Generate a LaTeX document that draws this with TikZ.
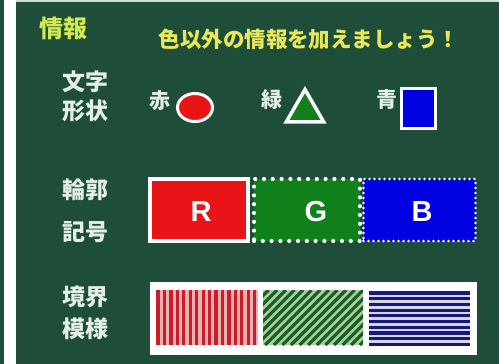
\documentclass[tikz,border=0pt]{standalone}
\usepackage{fontspec}
\usepackage{xcolor}
\usetikzlibrary{shapes.geometric}
\newfontfamily\jpfont{Noto Sans CJK JP}
\setsansfont{Liberation Sans}
\definecolor{boardgreen}{RGB}{30, 78, 58}
\definecolor{chalkwhite}{RGB}{228, 240, 228}
\definecolor{chalkyellow}{RGB}{232, 232, 90}
\definecolor{markred}{RGB}{232, 20, 24}
\definecolor{markgreen}{RGB}{16, 128, 26}
\definecolor{markblue}{RGB}{0, 0, 225}
\definecolor{stripered}{RGB}{200, 30, 40}
\definecolor{stripegreen}{RGB}{22, 100, 26}
\definecolor{stripeblue}{RGB}{24, 24, 120}

\begin{document}
\begin{tikzpicture}[
    x=1pt, y=-1pt,
    label/.style={text=chalkwhite, font=\jpfont\bfseries\fontsize{23}{23}\selectfont, inner sep=0pt},
    colorname/.style={text=chalkwhite, font=\jpfont\bfseries\fontsize{21}{21}\selectfont, inner sep=0pt},
    heading/.style={text=chalkyellow, font=\jpfont\bfseries\fontsize{21.5}{21.5}\selectfont, inner sep=0pt},
    letter/.style={text=white, font=\sffamily\bfseries\fontsize{29}{29}\selectfont, inner sep=0pt},
    colorbox/.style={rectangle, minimum width=100pt, minimum height=62pt, inner sep=0pt}
]
\useasboundingbox (0,0) rectangle (499,364);

% Board
\fill[boardgreen] (0,0) rectangle (499,364);
\fill[white] (4,0) rectangle (16,364);
\fill[white!80!boardgreen] (16,0) rectangle (499,2);

% Headings
\node[heading, text=chalkyellow!90!green, font=\jpfont\bfseries\fontsize{24}{24}\selectfont] (topic) at (63,28) {情報};
\node[heading] (title) at (309,39) {色以外の情報を加えましょう！};

% Row labels
\node[label] (moji) at (86,82) {文字};
\node[label] (keijo) at (86,111) {形状};
\node[label] (rinkaku) at (86,190) {輪郭};
\node[label] (kigo) at (86,232) {記号};
\node[label] (kyokai) at (86,297) {境界};
\node[label] (moyo) at (86,329) {模様};

% Letters and shapes
\node[colorname] (aka) at (160,101) {赤};
\node[colorname] (midori) at (272,100) {緑};
\node[colorname] (ao) at (387,100) {青};
\node[ellipse, minimum width=35pt, minimum height=28pt, fill=markred, draw=white, line width=3pt] (circ) at (195,107.5) {};
\node[regular polygon, regular polygon sides=3, minimum size=43pt, fill=markgreen, draw=white, line width=3.5pt] (tri) at (305,111) {};
\node[rectangle, minimum width=34pt, minimum height=40pt, fill=markblue, draw=white, line width=3pt] (sq) at (418.5,108.5) {};

% Outline boxes
\node[colorbox, minimum width=98pt, fill=markred, draw=white, line width=4pt] (rbox) at (199,210) {};
\node[colorbox, minimum width=106pt, fill=markgreen, draw=white, line width=4.2pt, line cap=round, dash pattern=on 0pt off 8.8pt] (gbox) at (307,210) {};
\node[colorbox, minimum width=112pt, fill=markblue, draw=white, line width=2.6pt, line cap=round, dash pattern=on 0pt off 5pt] (bbox) at (419.5,210) {};
\node[letter] (rlet) at (201,212) {R};
\node[letter] (glet) at (316,212) {G};
\node[letter] (blet) at (422,212) {B};

% Pattern panel
\node[rectangle, minimum width=327pt, minimum height=73pt, fill=white, inner sep=0pt] (panel) at (313.5,318.5) {};
\begin{scope}
  \clip (156,290) rectangle (258,345);
  \fill[stripered!35] (156,290) rectangle (258,345);
  \foreach \x in {0,...,15}
    \draw[stripered, line width=3.2pt] (158+6.45*\x,290) -- (158+6.45*\x,345);
\end{scope}
\begin{scope}
  \clip (263,290) rectangle (363,345);
  \fill[stripegreen!35] (263,290) rectangle (363,345);
  \foreach \x in {0,...,19}
    \draw[stripegreen, line width=3.2pt] (205+8.6*\x,345) -- (260+8.6*\x,290);
\end{scope}
\begin{scope}
  \clip (369,291) rectangle (470,345);
  \fill[stripeblue!18] (369,291) rectangle (470,345);
  \foreach \y in {0,...,9}
    \draw[stripeblue, line width=3.2pt] (369,293+5.7*\y) -- (470,293+5.7*\y);
\end{scope}

\end{tikzpicture}
\end{document}
